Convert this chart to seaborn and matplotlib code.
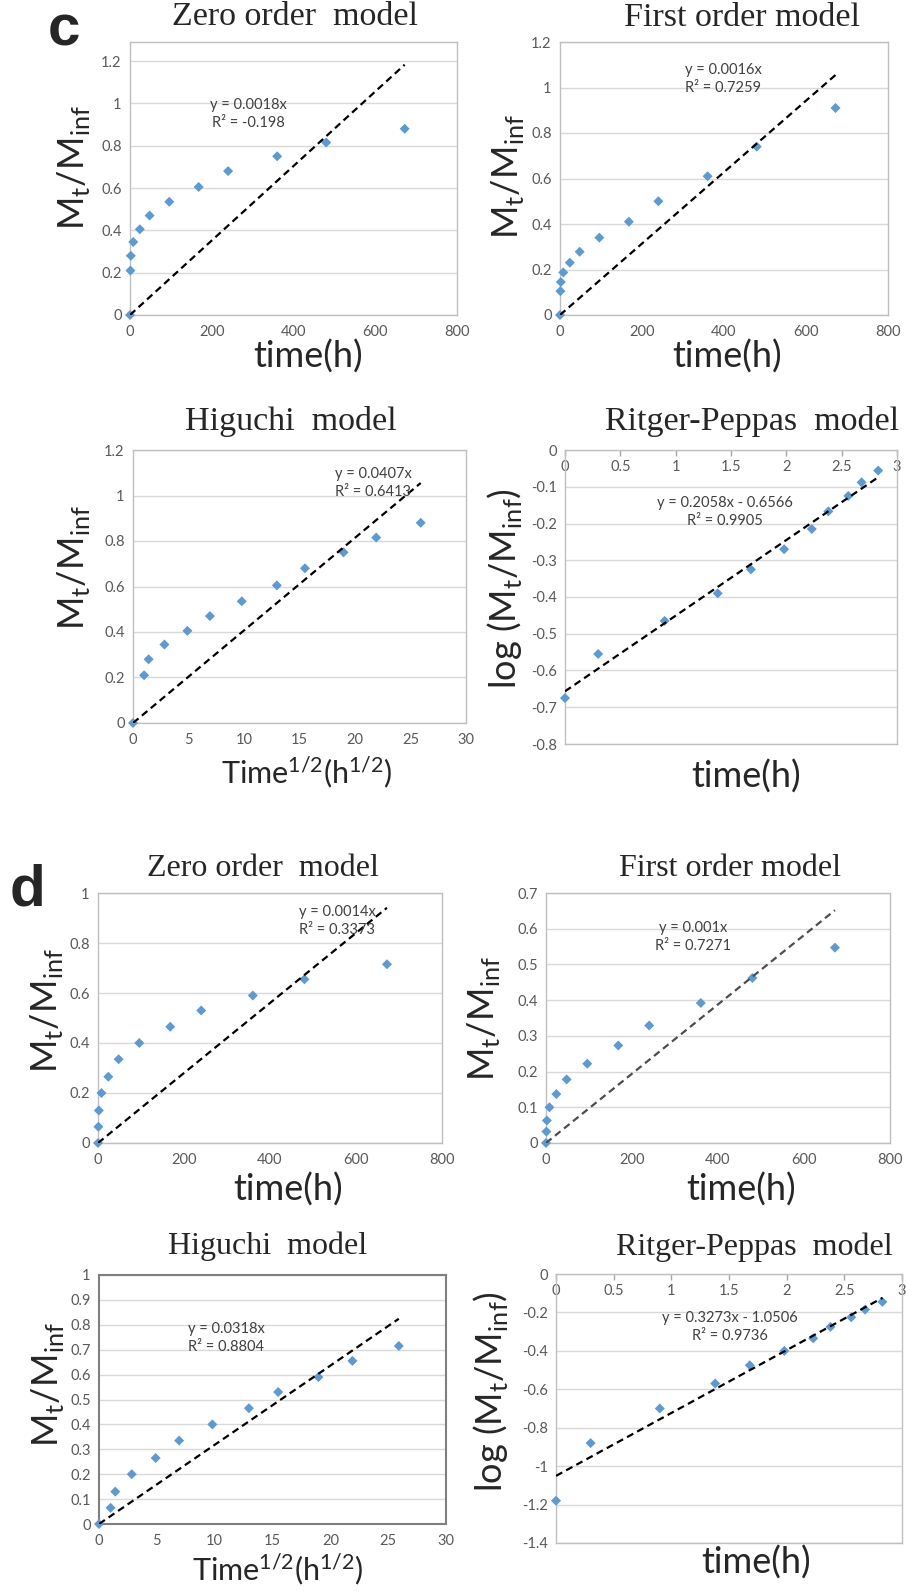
import numpy as np
import pandas as pd
import matplotlib
matplotlib.use('Agg')
import matplotlib.pyplot as plt
from matplotlib.ticker import FuncFormatter, MultipleLocator
import seaborn as sns

# release times (h) and their transforms, as plotted
time_h = [0, 1, 2, 8, 24, 48, 96, 168, 240, 360, 480, 672]
sqrt_time = [0, 1, 1.41, 2.83, 4.9, 6.93, 9.8, 12.96, 15.49, 18.97, 21.91, 25.92]
log_time = [0, 0.30, 0.90, 1.38, 1.68, 1.98, 2.23, 2.38, 2.56, 2.68, 2.83]

# Mt/Minf
c_zero = [0, 0.21, 0.28, 0.345, 0.405, 0.47, 0.535, 0.605, 0.68, 0.75, 0.815, 0.88]
c_first = [0, 0.105, 0.145, 0.187, 0.23, 0.278, 0.34, 0.41, 0.50, 0.61, 0.74, 0.91]
c_log = [-0.675, -0.555, -0.465, -0.39, -0.325, -0.27, -0.215, -0.167, -0.125, -0.088, -0.056]
d_zero = [0, 0.065, 0.13, 0.20, 0.265, 0.335, 0.40, 0.465, 0.53, 0.59, 0.655, 0.715]
d_first = [0, 0.032, 0.063, 0.10, 0.137, 0.178, 0.222, 0.273, 0.329, 0.392, 0.462, 0.547]
d_log = [-1.18, -0.88, -0.70, -0.57, -0.475, -0.40, -0.335, -0.275, -0.225, -0.185, -0.145]

# trendlines (slope, intercept) and their labels
fits = {
    'c_zero': (0.00176, 0), 'c_first': (0.00157, 0), 'c_hig': (0.0407, 0), 'c_rp': (0.2058, -0.6566),
    'd_zero': (0.0014, 0), 'd_first': (0.00097, 0), 'd_hig': (0.0318, 0), 'd_rp': (0.3273, -1.0506),
}
eq_text = {
    'c_zero': 'y = 0.0018x\nR² = -0.198', 'c_first': 'y = 0.0016x\nR² = 0.7259',
    'c_hig': 'y = 0.0407x\nR² = 0.6413', 'c_rp': 'y = 0.2058x - 0.6566\nR² = 0.9905',
    'd_zero': 'y = 0.0014x\nR² = 0.3373', 'd_first': 'y = 0.001x\nR² = 0.7271',
    'd_hig': 'y = 0.0318x\nR² = 0.8804', 'd_rp': 'y = 0.3273x - 1.0506\nR² = 0.9736',
}

sns.set_style('white')
plt.rcParams['font.family'] = ['Lato', 'DejaVu Sans']

W, H = 906, 1591
fig = plt.figure(figsize=(W / 100, H / 100), dpi=100)

MT = r'M$_{\mathregular{t}}$/M$_{\mathregular{inf}}$'
LOGMT = r'log (M$_{\mathregular{t}}$/M$_{\mathregular{inf}}$)'
SQRT = r'Time$^{\mathregular{1/2}}$(h$^{\mathregular{1/2}}$)'

# layout in pixels: frame (l, t, r, b), title, ylabel, xlabel, equation centres
panels = [
    dict(key='c_zero', x=time_h, y=c_zero, box=(130, 42, 457, 315), xlim=(0, 800), xstep=200,
         ylim=(0, 1.29), ymax=1.2, ystep=0.2, title='Zero order  model', tsize=24.5, t_xy=(295, 25),
         ylab=MT, yl_xy=(74, 168), xlab='time(h)', xl_xy=(308, 357), eq_xy=(248, 114), eq_ha='center'),
    dict(key='c_first', x=time_h, y=c_first, box=(560, 42, 888, 315), xlim=(0, 800), xstep=200,
         ylim=(0, 1.2), ymax=1.2, ystep=0.2, title='First order model', tsize=24.5, t_xy=(742, 26),
         ylab=MT, yl_xy=(507, 177), xlab='time(h)', xl_xy=(727, 357), eq_xy=(723, 79), eq_ha='center'),
    dict(key='c_hig', x=sqrt_time, y=c_zero, box=(133, 450, 466, 723), xlim=(0, 30), xstep=5,
         ylim=(0, 1.2), ymax=1.2, ystep=0.2, title='Higuchi  model', tsize=24.5, t_xy=(291, 430),
         ylab=MT, yl_xy=(73, 568), xlab=SQRT, xl_xy=(307, 773), eq_xy=(335, 483), eq_ha='left'),
    dict(key='c_rp', x=log_time, y=c_log, box=(565, 450, 897, 744), xlim=(0, 3), xstep=0.5,
         ylim=(-0.8, 0), ymax=0, ystep=0.1, title='Ritger-Peppas  model', tsize=24.5, t_xy=(752, 430),
         ylab=LOGMT, yl_xy=(505, 589), xlab='time(h)', xl_xy=(746, 777), eq_xy=(725, 512), eq_ha='center',
         top=True),
    dict(key='d_zero', x=time_h, y=d_zero, box=(98, 893, 442, 1143), xlim=(0, 800), xstep=200,
         ylim=(0, 1), ymax=1, ystep=0.2, title='Zero order  model', tsize=23, t_xy=(263, 877),
         ylab=MT, yl_xy=(47, 1011), xlab='time(h)', xl_xy=(288, 1190), eq_xy=(299, 921), eq_ha='left'),
    dict(key='d_first', x=time_h, y=d_first, box=(546, 893, 890, 1143), xlim=(0, 800), xstep=200,
         ylim=(0, 0.7), ymax=0.7, ystep=0.1, title='First order model', tsize=23, t_xy=(730, 877),
         ylab=MT, yl_xy=(483, 1019), xlab='time(h)', xl_xy=(741, 1190), eq_xy=(693, 937), eq_ha='center',
         lcolor='#4d4d4d'),
    dict(key='d_hig', x=sqrt_time, y=d_zero, box=(99, 1275, 446, 1524), xlim=(0, 30), xstep=5,
         ylim=(0, 1), ymax=1, ystep=0.1, title='Higuchi  model', tsize=23, t_xy=(268, 1255),
         ylab=MT, yl_xy=(47, 1385), xlab=SQRT, xl_xy=(278, 1570), eq_xy=(188, 1338), eq_ha='left',
         frame='#7f7f7f'),
    dict(key='d_rp', x=log_time, y=d_log, box=(556, 1274, 902, 1543), xlim=(0, 3), xstep=0.5,
         ylim=(-1.4, 0), ymax=0, ystep=0.2, title='Ritger-Peppas  model', tsize=23, t_xy=(754, 1256),
         ylab=LOGMT, yl_xy=(490, 1392), xlab='time(h)', xl_xy=(756, 1563), eq_xy=(730, 1327), eq_ha='center',
         top=True),
]


def tick_fmt(v, pos):
    v = round(v, 6) + 0.0
    return f'{v:g}' if v != 0 else '0'


fmt = FuncFormatter(tick_fmt)

for p in panels:
    l, t, r, b = p['box']
    ax = fig.add_axes([l / W, 1 - b / H, (r - l) / W, (b - t) / H])

    def ac(px, py):
        return (px - l) / (r - l), (b - py) / (b - t)

    sns.scatterplot(x=p['x'], y=p['y'], ax=ax, marker='D', s=26, color='#5B9BD5',
                    edgecolor='none', linewidth=0, zorder=3, clip_on=False)
    k, c0 = fits[p['key']]
    xs = np.array([min(p['x']), max(p['x'])])
    sns.lineplot(x=xs, y=k * xs + c0, ax=ax, color=p.get('lcolor', 'black'), lw=1.6,
                 linestyle=(0, (3.2, 2.0)), zorder=4)

    ax.set_xlim(*p['xlim'])
    ax.set_ylim(*p['ylim'])
    ax.xaxis.set_major_locator(MultipleLocator(p['xstep']))
    yt = np.round(np.arange(p['ylim'][0], p['ymax'] + 1e-9, p['ystep']), 6)
    ax.set_yticks(yt)
    ax.set_ylim(*p['ylim'])
    ax.xaxis.set_major_formatter(fmt)
    ax.yaxis.set_major_formatter(fmt)
    ax.grid(axis='y', color='#d9d9d9', lw=1)
    ax.set_axisbelow(True)

    fc = p.get('frame', '#bfbfbf')
    for s in ax.spines.values():
        s.set_color(fc)
        s.set_linewidth(1.5 if 'frame' in p else 1)

    ax.tick_params(axis='y', direction='out', length=4, width=1, color='#a6a6a6',
                   labelsize=10.5, labelcolor='#595959', pad=2)
    if p.get('top'):
        ax.xaxis.set_ticks_position('top')
        ax.tick_params(axis='x', direction='in', length=4, width=1, color='#a6a6a6',
                       labelsize=10.5, labelcolor='#595959', pad=-17)
    else:
        ax.tick_params(axis='x', direction='out', length=4, width=1, color='#a6a6a6',
                       labelsize=10.5, labelcolor='#595959', pad=3)

    ax.set_title(p['title'], family='Liberation Serif', fontsize=p['tsize'],
                 x=ac(*p['t_xy'])[0], y=ac(*p['t_xy'])[1], va='center')

    ax.set_ylabel(p['ylab'], fontsize=26)
    ax.yaxis.label.set_va('center')
    ax.yaxis.set_label_coords(*ac(*p['yl_xy']))
    ax.set_xlabel(p['xlab'], fontsize=22 if p['xlab'] == SQRT else 26)
    ax.xaxis.label.set_va('center')
    ax.xaxis.set_label_coords(*ac(*p['xl_xy']))

    ex, ey = ac(*p['eq_xy'])
    ax.text(ex, ey, eq_text[p['key']], transform=ax.transAxes, ha=p['eq_ha'], va='center',
            multialignment=p['eq_ha'], fontsize=10.5, color='#404040', linespacing=1.3, zorder=5)

fig.text(64 / W, 1 - 45 / H, 'c', ha='center', va='baseline', fontsize=42,
         fontweight='bold', family='Liberation Sans')
fig.text(28 / W, 1 - 905 / H, 'd', ha='center', va='baseline', fontsize=42,
         fontweight='bold', family='Liberation Sans')

fig.savefig('out.png', dpi=100)
